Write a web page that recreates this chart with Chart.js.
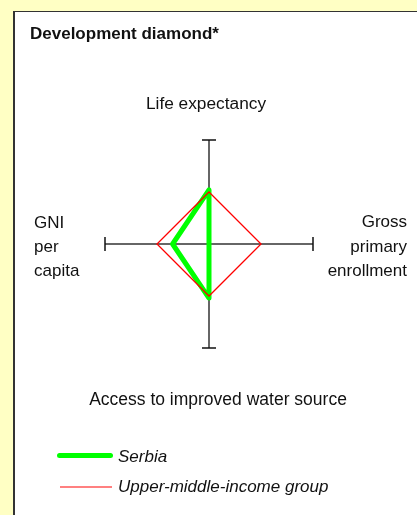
<!DOCTYPE html>
<html>
<head>
<meta charset="utf-8">
<script src="https://cdn.jsdelivr.net/npm/chart.js@4/dist/chart.umd.min.js"></script>
<style>
  html, body { margin:0; padding:0; }
  body { width:417px; height:515px; background:#ffffc4; position:relative; overflow:hidden;
         font-family:"Liberation Sans", Arial, sans-serif; color:#111; }
  #panel { position:absolute; left:13px; top:11px; right:0; bottom:-5px; background:#fff;
           border-left:2px solid #333; border-top:1px solid #333; }
  #c { position:absolute; left:0; top:0; }
  .t { position:absolute; font-size:17px; line-height:20px; white-space:nowrap; }
  #title { left:30px; top:24px; font-weight:bold; font-size:17px; }
  #lab0 { left:56px; width:300px; top:93px; text-align:center; font-size:17.3px; }
  #lab1 { right:10px; top:210px; text-align:right; line-height:24.5px; }
  #lab2 { left:68px; width:300px; top:389px; text-align:center; font-size:17.5px; }
  #lab3 { left:34px; top:211px; line-height:24px; }
  #legend { position:absolute; left:57px; top:447px; }
  .li { position:relative; height:30px; font-style:italic; font-size:17px; line-height:20px; }
  .sw { position:absolute; }
  .li span.txt { position:absolute; left:61px; top:0; white-space:nowrap; }
</style>
</head>
<body>
<div id="panel"></div>
<canvas id="c" width="417" height="515"></canvas>
<div class="t" id="title">Development diamond*</div>
<div class="t" id="lab0"></div>
<div class="t" id="lab1"></div>
<div class="t" id="lab2"></div>
<div class="t" id="lab3"></div>
<div id="legend"></div>
<script>
// Axes (clockwise from top): each label may contain line breaks
const axisLabels = ["Life expectancy", "Gross\nprimary\nenrollment", "Access to improved water source", "GNI\nper\ncapita"];
const serbiaName = "Serbia";
const serbiaValues = [52, 0, 52, 35];
const groupName = "Upper-middle-income group";
const groupValues = [50, 50, 50, 50];
const scaleMin = 0;
const scaleMax = 100;

axisLabels.forEach((t, i) => {
  document.getElementById('lab' + i).innerHTML = t.split('\n').join('<br>');
});

const capPlugin = {
  id: 'axisCaps',
  afterDatasetsDraw(chart) {
    const s = chart.scales.r;
    const ctx = chart.ctx;
    ctx.save();
    ctx.strokeStyle = '#111';
    ctx.lineWidth = 1.5;
    const n = chart.data.labels.length;
    const half = 7;
    for (let i = 0; i < n; i++) {
      const p = s.getPointPosition(i, s.drawingArea);
      const a = p.angle;
      const px = -Math.sin(a), py = Math.cos(a);
      ctx.beginPath();
      ctx.moveTo(p.x - px * half, p.y - py * half);
      ctx.lineTo(p.x + px * half, p.y + py * half);
      ctx.stroke();
    }
    ctx.restore();
  }
};

const chart = new Chart(document.getElementById('c'), {
  type: 'radar',
  data: {
    labels: axisLabels,
    datasets: [
      { label: serbiaName, data: serbiaValues, borderColor: '#00ff00', borderWidth: 5,
        fill: false, pointRadius: 0, borderJoinStyle: 'round', borderCapStyle: 'round', order: 2 },
      { label: groupName, data: groupValues, borderColor: '#ff0000', borderWidth: 1.3,
        fill: false, pointRadius: 0, order: 1 }
    ]
  },
  options: {
    responsive: false,
    devicePixelRatio: 1,
    animation: false,
    layout: { padding: { left: 105, right: 104, top: 140, bottom: 167 } },
    plugins: { legend: { display: false }, tooltip: { enabled: false } },
    elements: { line: { tension: 0 } },
    scales: {
      r: {
        min: scaleMin, max: scaleMax,
        ticks: { display: false },
        grid: { display: false },
        pointLabels: { display: false },
        angleLines: { display: true, color: '#666', lineWidth: 2 }
      }
    }
  },
  plugins: [capPlugin]
});

// HTML legend generated from the chart datasets
const leg = document.getElementById('legend');
chart.data.datasets.forEach((ds, i) => {
  const li = document.createElement('div');
  li.className = 'li';
  const sw = document.createElement('div');
  sw.className = 'sw';
  if (ds.borderWidth >= 3) {
    sw.style.cssText = 'left:0;width:56px;height:' + ds.borderWidth + 'px;top:6px;border-radius:3px;background:' + ds.borderColor;
  } else {
    sw.style.cssText = 'left:3px;width:52px;height:2px;top:9px;background:#ff8080';
  }
  li.appendChild(sw);
  const t = document.createElement('span');
  t.className = 'txt';
  t.textContent = ds.label;
  li.appendChild(t);
  leg.appendChild(li);
});
</script>
</body>
</html>
